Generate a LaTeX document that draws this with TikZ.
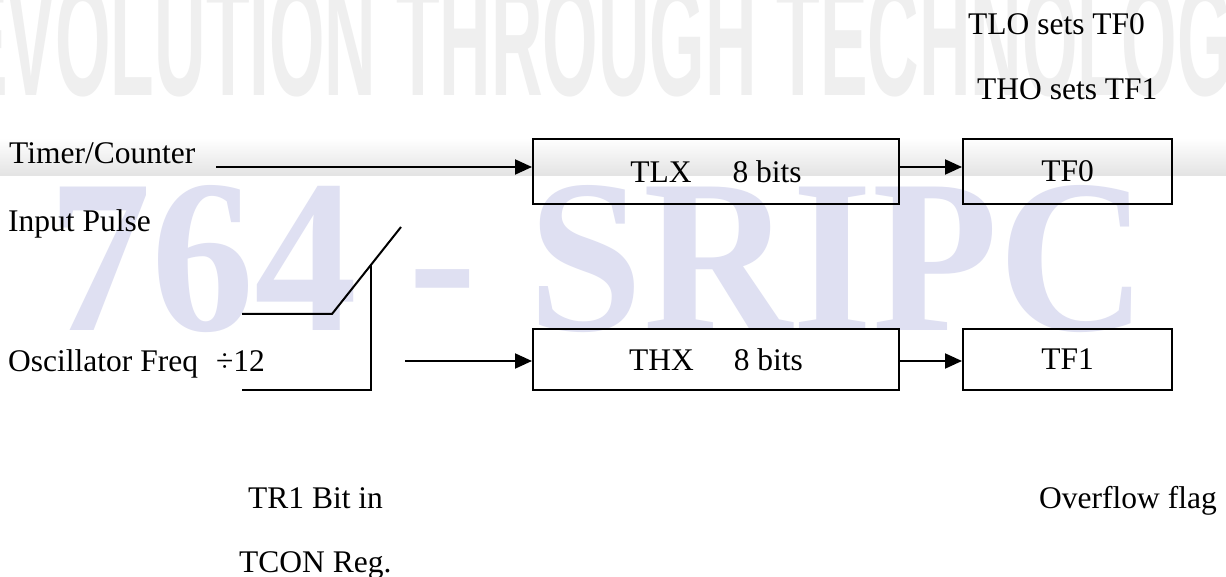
\documentclass[tikz,border=0pt]{standalone}
\usepackage{graphicx}
\usepackage{fontspec}
\setmainfont{Liberation Serif}
\newfontfamily\wmsans{Liberation Sans}
\usetikzlibrary{arrows.meta}
\definecolor{wmblue}{RGB}{223,224,242}
\definecolor{wmgray}{RGB}{239,239,239}
\begin{document}
\begin{tikzpicture}[x=1pt,y=-1pt,
  font=\fontsize{31.5}{36}\selectfont,
  box/.style={draw, line width=2pt, inner sep=0pt},
  conn/.style={line width=2pt},
  arr/.style={conn, -{Triangle[length=17pt,width=15pt]}},
  lbl/.style={anchor=base west, inner sep=0pt}]
\useasboundingbox (0,0) rectangle (1226,577);
% watermark background
\begin{scope}
\clip (0,0) rectangle (1226,577);
\fill[white] (0,0) rectangle (1226,577);
\node[anchor=south west, inner sep=0pt, text=wmgray] (wmtop) at (-40,97)
  {\resizebox{1320pt}{112pt}{\wmsans\bfseries EVOLUTION THROUGH TECHNOLOGY}};
\shade[top color=white, bottom color=black!11] (0,138) rectangle (1226,176);
\node[anchor=south west, inner sep=0pt, text=wmblue] (wmmid) at (48,333)
  {\resizebox{1099pt}{145pt}{\bfseries 764 - SRIPC}};
\end{scope}
% boxes
\node[box, minimum width=366pt, minimum height=65pt] (tlx) at (716,171.5) {TLX\hspace{41pt}8 bits};
\node[box, minimum width=209pt, minimum height=65pt] (tf0) at (1067.5,171.5) {TF0};
\node[box, minimum width=366pt, minimum height=61pt] (thx) at (716,359.5) {THX\hspace{40pt}8 bits};
\node[box, minimum width=209pt, minimum height=61pt] (tf1) at (1067.5,359.5) {TF1};
% connectors
\coordinate (tcin) at (216,167);
\coordinate (oscin) at (405,361);
\draw[arr] (tcin) -- (tcin -| tlx.west);
\draw[arr] (tcin -| tlx.east) -- (tcin -| tf0.west);
\draw[arr] (oscin) -- (oscin -| thx.west);
\draw[arr] (oscin -| thx.east) -- (oscin -| tf1.west);
% switch
\coordinate (swa) at (242,314);
\coordinate (swb) at (332,314);
\coordinate (swc) at (401,227);
\coordinate (swv) at (371,265);
\coordinate (swd) at (371,390);
\coordinate (swe) at (242,390);
\draw[conn] (swa) -- (swb) -- (swc);
\draw[conn] (swv) -- (swd) -- (swe);
% labels
\node[lbl] (tc) at (9,164) {Timer/Counter};
\node[lbl] (ip) at (8,232) {Input Pulse};
\node[lbl] (osc) at (8,371) {Oscillator Freq\hspace{18pt}÷12};
\node[lbl] (tlo) at (968,35) {TLO sets TF0};
\node[lbl] (tho) at (977,100) {THO sets TF1};
\node[lbl] (tr1) at (248,508) {TR1 Bit in};
\node[lbl] (tcon) at (239,572) {TCON Reg.};
\node[lbl] (ovf) at (1039,508) {Overflow flag};
\end{tikzpicture}
\end{document}
